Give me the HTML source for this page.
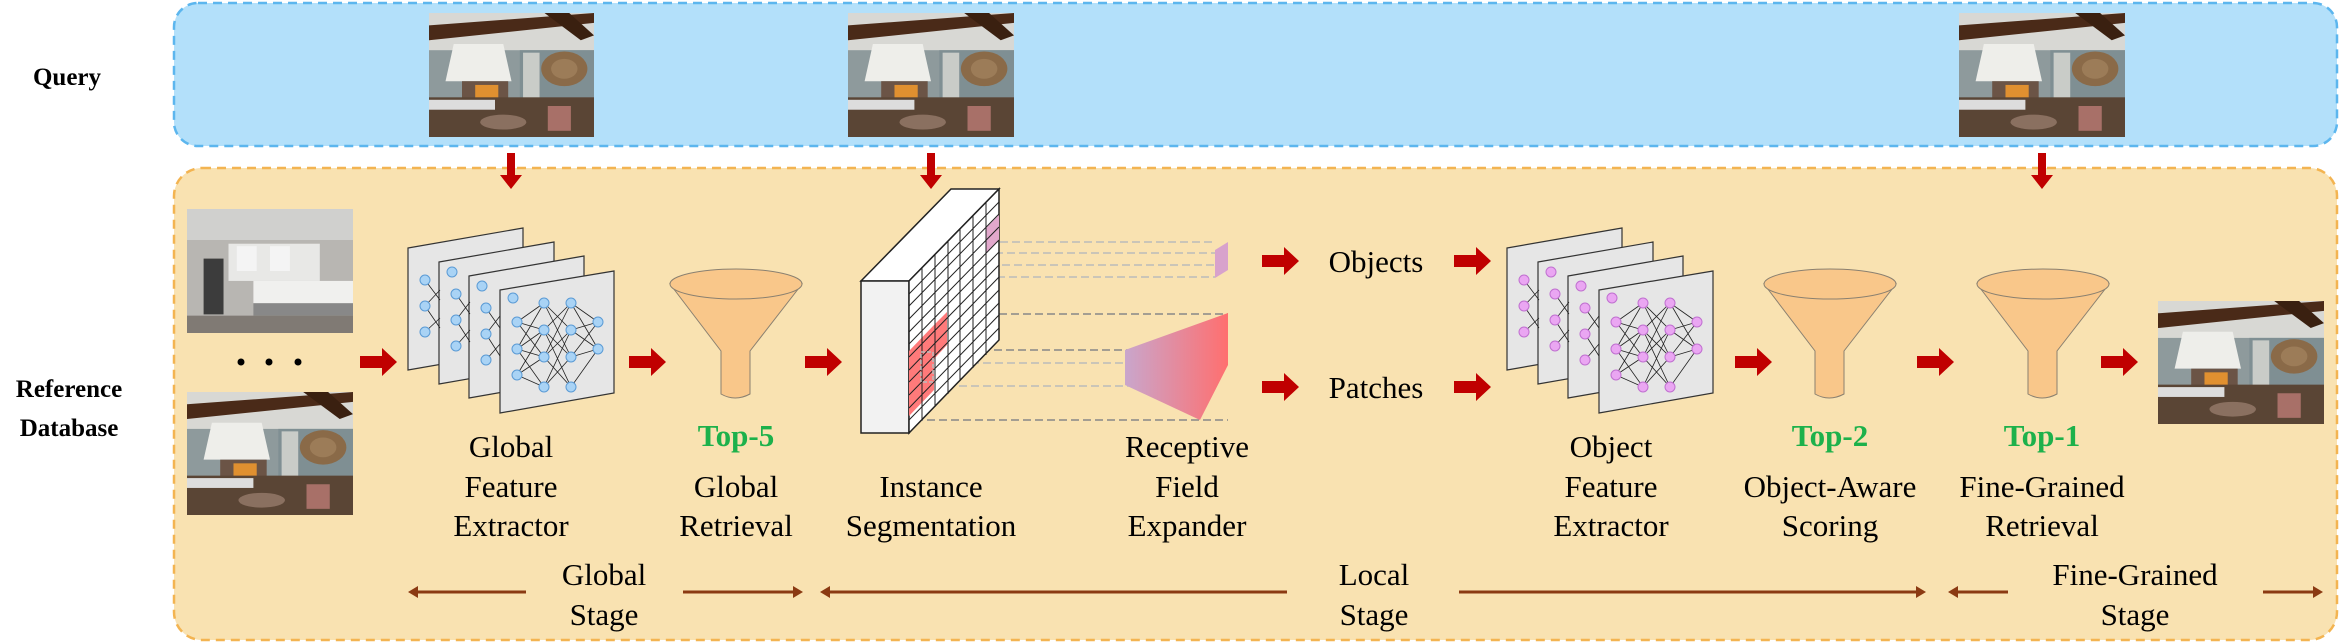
<!DOCTYPE html>
<html><head><meta charset="utf-8"><style>
html,body{margin:0;padding:0;background:#fff;}
svg{display:block;font-family:"Liberation Serif","DejaVu Serif","Times New Roman",serif;}
svg text{font-family:"Liberation Serif","DejaVu Serif","Times New Roman",serif;}
</style></head><body>
<svg width="2340" height="643" viewBox="0 0 2340 643" xmlns="http://www.w3.org/2000/svg">
<defs>
<symbol id="room" viewBox="0 0 100 100" preserveAspectRatio="none">
<rect width="100" height="100" fill="#8e9a9c"/>
<rect x="0" y="0" width="100" height="30" fill="#d8d8d4"/>
<polygon points="0,10 100,0 100,8 0,22" fill="#4a2a18"/>
<polygon points="70,0 85,0 100,18 92,22" fill="#3a2010"/>
<rect x="55" y="30" width="45" height="55" fill="#7f8f93"/>
<polygon points="15,25 45,25 50,55 10,55" fill="#eeeeea"/>
<rect x="20" y="55" width="28" height="18" fill="#6b5446"/>
<rect x="28" y="58" width="14" height="12" fill="#e09030"/>
<rect x="57" y="32" width="10" height="40" fill="#c9ccc8"/>
<circle cx="82" cy="45" r="14" fill="#8a6a48"/>
<circle cx="82" cy="45" r="8" fill="#9c7c58"/>
<rect x="0" y="68" width="100" height="32" fill="#5a4535"/>
<rect x="0" y="70" width="40" height="8" fill="#ddd"/>
<ellipse cx="45" cy="88" rx="14" ry="6" fill="#8a7060"/>
<rect x="72" y="75" width="14" height="20" fill="#a87068"/>
</symbol>
<symbol id="kitchen" viewBox="0 0 100 100" preserveAspectRatio="none">
<rect width="100" height="100" fill="#b8b6b2"/>
<rect x="0" y="0" width="100" height="25" fill="#d0d0ce"/>
<rect x="25" y="28" width="55" height="30" fill="#e8e8e6"/>
<rect x="30" y="30" width="12" height="20" fill="#f4f4f4"/>
<rect x="50" y="30" width="12" height="20" fill="#f4f4f4"/>
<rect x="10" y="40" width="12" height="45" fill="#3c3c3c"/>
<rect x="40" y="58" width="60" height="18" fill="#f0f0ee"/>
<rect x="40" y="76" width="60" height="10" fill="#888"/>
<rect x="0" y="86" width="100" height="14" fill="#807a74"/>
</symbol>
<linearGradient id="exp" x1="0" x2="1" y1="0" y2="0"><stop offset="0" stop-color="#c9a6cc"/><stop offset="1" stop-color="#ff6f6f"/></linearGradient>
</defs>

<rect x="174" y="3" width="2163" height="143" rx="24" fill="#b3e0fa" stroke="#5cb6ee" stroke-width="2.5" stroke-dasharray="9,6"/>
<rect x="174" y="168" width="2163" height="472" rx="28" fill="#f9e2b1" stroke="#f3b451" stroke-width="2.5" stroke-dasharray="9,6"/>

<g font-weight="bold" font-size="25" text-anchor="middle">
<text x="67" y="85">Query</text>
<text x="69" y="397">Reference</text>
<text x="69" y="436">Database</text>
</g>

<use href="#room" x="429" y="13" width="165" height="124"/>
<use href="#room" x="848" y="13" width="166" height="124"/>
<use href="#room" x="1959" y="13" width="166" height="124"/>

<g fill="#c00000">
<polygon points="507,153 515,153 515,175 522,175 511,189 500,175 507,175"/>
<polygon points="927,153 935,153 935,175 942,175 931,189 920,175 927,175"/>
<polygon points="2038,153 2046,153 2046,175 2053,175 2042,189 2031,175 2038,175"/>
</g>

<use href="#kitchen" x="187" y="209" width="166" height="124"/>
<use href="#room" x="187" y="392" width="166" height="123"/>
<g fill="#000"><circle cx="241" cy="362" r="3.5"/><circle cx="269" cy="362" r="3.5"/><circle cx="298" cy="362" r="3.5"/></g>

<g fill="#c00000">
<polygon points="360,356 382,356 382,348 397,362 382,376 382,368 360,368"/>
<polygon points="629,356 651,356 651,348 666,362 651,376 651,368 629,368"/>
<polygon points="805,356 827,356 827,348 842,362 827,376 827,368 805,368"/>
<polygon points="1262,255 1284,255 1284,247 1299,261 1284,275 1284,267 1262,267"/>
<polygon points="1262,381 1284,381 1284,373 1299,387 1284,401 1284,393 1262,393"/>
<polygon points="1454,255 1476,255 1476,247 1491,261 1476,275 1476,267 1454,267"/>
<polygon points="1454,381 1476,381 1476,373 1491,387 1476,401 1476,393 1454,393"/>
<polygon points="1735,356 1757,356 1757,348 1772,362 1757,376 1757,368 1735,368"/>
<polygon points="1917,356 1939,356 1939,348 1954,362 1939,376 1939,368 1917,368"/>
<polygon points="2101,356 2123,356 2123,348 2138,362 2123,376 2123,368 2101,368"/>
</g>

<g id="net1">
<g stroke="#333" stroke-width="1.2" fill="#e6e6e6">
<polygon points="408,248 523,228 523,350 408,370"/>
<polygon points="439,262 554,242 554,364 439,384"/>
<polygon points="469,276 584,256 584,378 469,398"/>
<polygon points="500,290 614,271 614,393 500,413"/>
</g>
<g stroke="#222" stroke-width="0.8">
<path d="M425,280 L440,300 M425,306 L440,290 M425,306 L440,328 M425,332 L440,318"/>
<path d="M456,294 L470,314 M456,320 L470,302 M456,320 L470,342 M456,346 L470,330"/>
<path d="M486,308 L500,328 M486,334 L500,316 M486,334 L500,356 M486,360 L500,344"/>
<path d="M517,322 L544,303 M517,322 L544,330 M517,322 L544,357 M517,349 L544,303 M517,349 L544,330 M517,349 L544,357 M517,349 L544,387 M517,375 L544,330 M517,375 L544,357 M517,375 L544,387 M544,303 L571,330 M544,303 L571,357 M544,330 L571,303 M544,330 L571,357 M544,330 L571,387 M544,357 L571,303 M544,357 L571,330 M544,357 L571,387 M544,387 L571,330 M544,387 L571,357 M571,303 L598,322 M571,303 L598,349 M571,330 L598,322 M571,330 L598,349 M571,357 L598,322 M571,357 L598,349 M571,387 L598,349"/>
</g>
</g>
<g fill="#a9d3f5" stroke="#5b9bd5" stroke-width="1">
<circle cx="425" cy="280" r="5"/><circle cx="425" cy="306" r="5"/><circle cx="425" cy="332" r="5"/><circle cx="452" cy="272" r="5"/>
<circle cx="456" cy="294" r="5"/><circle cx="456" cy="320" r="5"/><circle cx="456" cy="346" r="5"/><circle cx="482" cy="286" r="5"/>
<circle cx="486" cy="308" r="5"/><circle cx="486" cy="334" r="5"/><circle cx="486" cy="360" r="5"/><circle cx="513" cy="298" r="5"/>
<circle cx="517" cy="322" r="5"/><circle cx="517" cy="349" r="5"/><circle cx="517" cy="375" r="5"/>
<circle cx="544" cy="303" r="5"/><circle cx="544" cy="330" r="5"/><circle cx="544" cy="357" r="5"/><circle cx="544" cy="387" r="5"/>
<circle cx="571" cy="303" r="5"/><circle cx="571" cy="330" r="5"/><circle cx="571" cy="357" r="5"/><circle cx="571" cy="387" r="5"/>
<circle cx="598" cy="322" r="5"/><circle cx="598" cy="349" r="5"/>
</g>

<g transform="translate(1099,0)">
<use href="#net1"/>
<g fill="#eaa6f2" stroke="#c070d0" stroke-width="1">
<circle cx="425" cy="280" r="5"/><circle cx="425" cy="306" r="5"/><circle cx="425" cy="332" r="5"/><circle cx="452" cy="272" r="5"/>
<circle cx="456" cy="294" r="5"/><circle cx="456" cy="320" r="5"/><circle cx="456" cy="346" r="5"/><circle cx="482" cy="286" r="5"/>
<circle cx="486" cy="308" r="5"/><circle cx="486" cy="334" r="5"/><circle cx="486" cy="360" r="5"/><circle cx="513" cy="298" r="5"/>
<circle cx="517" cy="322" r="5"/><circle cx="517" cy="349" r="5"/><circle cx="517" cy="375" r="5"/>
<circle cx="544" cy="303" r="5"/><circle cx="544" cy="330" r="5"/><circle cx="544" cy="357" r="5"/><circle cx="544" cy="387" r="5"/>
<circle cx="571" cy="303" r="5"/><circle cx="571" cy="330" r="5"/><circle cx="571" cy="357" r="5"/><circle cx="571" cy="387" r="5"/>
<circle cx="598" cy="322" r="5"/><circle cx="598" cy="349" r="5"/>
</g>
</g>

<g fill="#f9c78a" stroke="#8a8070" stroke-width="1">
<path d="M670,284 L721,351 L721,394 Q735,402 750,394 L750,351 L802,284 Z"/>
<ellipse cx="736" cy="284" rx="66" ry="15"/>
<path d="M1764,284 L1815,351 L1815,394 Q1829,402 1844,394 L1844,351 L1896,284 Z"/>
<ellipse cx="1830" cy="284" rx="66" ry="15"/>
<path d="M1977,284 L2028,351 L2028,394 Q2042,402 2057,394 L2057,351 L2109,284 Z"/>
<ellipse cx="2043" cy="284" rx="66" ry="15"/>
</g>

<g stroke="#bbb" stroke-width="1.5" stroke-dasharray="8,4" fill="none">
<path d="M1000,242 H1215 M995,253 H1215 M990,265 H1215 M985,277 H1215 M935,363 H1150 M935,386 H1150"/>
</g>
<g stroke="#888" stroke-width="1.5" stroke-dasharray="8,4" fill="none">
<path d="M999,314 H1228 M910,350 H1150 M915,420 H1228"/>
</g>

<polygon points="861,281 909,281 999,189 951,189" fill="#fff" stroke="#222" stroke-width="1.5"/>
<rect x="861" y="281" width="48" height="152" fill="#f2f2f2" stroke="#222" stroke-width="1.5"/>
<polygon points="909,281 999,189 999,340 909,433" fill="#fff" stroke="#222" stroke-width="1.5"/>
<polygon points="909,351 934,325 934,390 909,416" fill="#ff7a7a"/>
<polygon points="934,325 947,312 947,345 934,359" fill="#ff7a7a"/>
<polygon points="986,228 999,215 999,240 986,253" fill="#e2a8cc"/>
<g stroke="#222" stroke-width="1">
<path d="M922,268 V420 M935,255 V407 M948,241 V394 M960,228 V381 M973,215 V368 M986,202 V355"/>
<path d="M909,294 L999,202 M909,306 L999,214 M909,319 L999,227 M909,332 L999,240 M909,344 L999,252 M909,357 L999,265 M909,370 L999,277 M909,382 L999,290 M909,395 L999,303 M909,408 L999,315 M909,420 L999,328"/>
</g>
<rect x="921" y="352" width="12" height="30" fill="none" stroke="#bbb" stroke-width="1.5" stroke-dasharray="4,2"/>

<polygon points="1215,250 1228,242 1228,270 1215,278" fill="#d8a2cc"/>
<polygon points="1125,350 1228,313 1228,365 1200,420 1125,385" fill="url(#exp)"/>

<use href="#room" x="2158" y="301" width="166" height="123"/>

<g font-size="31" text-anchor="middle" fill="#000">
<text x="511" y="457">Global</text><text x="511" y="497">Feature</text><text x="511" y="536">Extractor</text>
<text x="736" y="497">Global</text><text x="736" y="536">Retrieval</text>
<text x="931" y="497">Instance</text><text x="931" y="536">Segmentation</text>
<text x="1187" y="457">Receptive</text><text x="1187" y="497">Field</text><text x="1187" y="536">Expander</text>
<text x="1376" y="272">Objects</text><text x="1376" y="398">Patches</text>
<text x="1611" y="457">Object</text><text x="1611" y="497">Feature</text><text x="1611" y="536">Extractor</text>
<text x="1830" y="497">Object-Aware</text><text x="1830" y="536">Scoring</text>
<text x="2042" y="497">Fine-Grained</text><text x="2042" y="536">Retrieval</text>
<text x="604" y="585">Global</text><text x="604" y="625">Stage</text>
<text x="1374" y="585">Local</text><text x="1374" y="625">Stage</text>
<text x="2135" y="585">Fine-Grained</text><text x="2135" y="625">Stage</text>
</g>
<g font-size="31" font-weight="bold" text-anchor="middle" fill="#1db14b">
<text x="736" y="446">Top-5</text><text x="1830" y="446">Top-2</text><text x="2042" y="446">Top-1</text>
</g>

<g stroke="#8b3a12" stroke-width="3" fill="none">
<path d="M412,592 H526 M683,592 H799 M824,592 H1287 M1459,592 H1922 M1952,592 H2008 M2263,592 H2319"/>
</g>
<g fill="#8b3a12">
<polygon points="408,592 418,586 418,598"/>
<polygon points="803,592 793,586 793,598"/>
<polygon points="820,592 830,586 830,598"/>
<polygon points="1926,592 1916,586 1916,598"/>
<polygon points="1948,592 1958,586 1958,598"/>
<polygon points="2323,592 2313,586 2313,598"/>
</g>
</svg>
</body></html>
